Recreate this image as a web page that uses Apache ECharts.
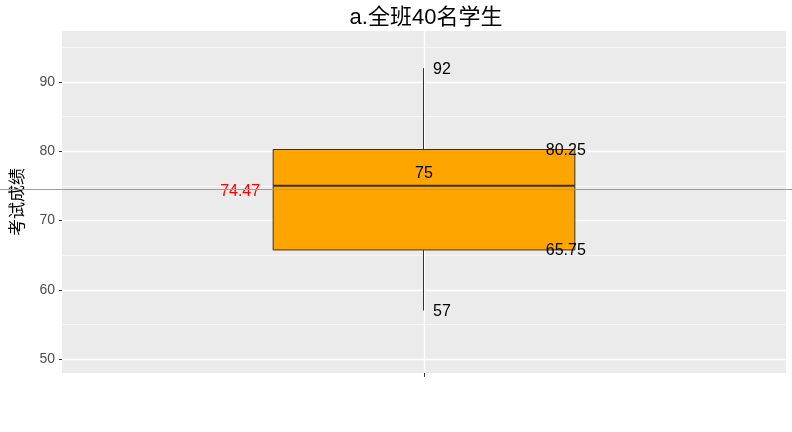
<!DOCTYPE html>
<html><head><meta charset="utf-8">
<script src="https://cdn.jsdelivr.net/npm/echarts@6/dist/echarts.min.js"></script>
<style>html,body{margin:0;padding:0;background:#fff}#c{width:792px;height:432px}</style>
</head><body><div id="c"></div>
<script>
// ---- data ----
const titleText = 'a.全班40名学生';
const yName = '考试成绩';
const groupX = [1];                         // single group position on the discrete axis
const boxStats = [57, 65.75, 75, 80.25, 92]; // min, Q1, median, Q3, max
const meanValue = [74.47];
const yTicks = [50, 60, 70, 80, 90];
const yMinorTicks = [55, 65, 75, 85, 95];

// ---- chart ----
const yMin = 47.98, yMax = 97.36;
const halfBox = 0.25;
const chart = echarts.init(document.getElementById('c'), null, {renderer: 'canvas'});
const stroke = '#333333';
const labelFont = {fontSize: 16, fontFamily: 'Liberation Sans, Arial, sans-serif', fill: '#000'};

chart.setOption({
  animation: false,
  backgroundColor: '#ffffff',
  title: {
    text: titleText, left: 421, top: 2, textAlign: 'center',
    textStyle: {fontSize: 22, fontWeight: 'normal', color: '#000',
      fontFamily: 'Liberation Sans, "Noto Sans CJK SC", sans-serif'}
  },
  grid: [
    {left: 59, right: 6, top: 31, bottom: 59, show: true, backgroundColor: '#EBEBEB', borderWidth: 0},
    {left: 0, right: 0, top: 31, bottom: 59, show: false}
  ],
  xAxis: [
    {type: 'value', gridIndex: 0, min: 0.4, max: 1.6,
      axisLine: {show: false},
      axisTick: {show: true, customValues: groupX, length: 4, lineStyle: {color: stroke}},
      axisLabel: {show: false, customValues: groupX},
      splitLine: {show: true, lineStyle: {color: '#ffffff', width: 1.3}}},
    {type: 'value', gridIndex: 1, min: 0, max: 1, show: false}
  ],
  yAxis: [
    {type: 'value', gridIndex: 0, min: yMin, max: yMax,
      name: yName, nameLocation: 'middle', nameGap: 37, nameRotate: 90,
      nameTextStyle: {fontSize: 17, color: '#000', fontFamily: '"Noto Sans CJK SC", sans-serif'},
      axisLine: {show: false},
      axisTick: {show: true, customValues: yTicks, length: 3, lineStyle: {color: stroke}},
      axisLabel: {customValues: yTicks, margin: 7, fontSize: 14, color: '#4D4D4D',
        fontFamily: 'Liberation Sans, Arial, sans-serif'},
      splitLine: {show: true, lineStyle: {color: '#ffffff', width: 1.3}}},
    {type: 'value', gridIndex: 0, min: yMin, max: yMax, position: 'left',
      axisLine: {show: false},
      axisTick: {show: false, customValues: yMinorTicks},
      axisLabel: {show: false, customValues: yMinorTicks},
      splitLine: {show: true, lineStyle: {color: '#ffffff', width: 0.6}}},
    {type: 'value', gridIndex: 1, min: yMin, max: yMax, show: false}
  ],
  series: [
    {
      type: 'custom', xAxisIndex: 0, yAxisIndex: 0, silent: true, z: 3,
      data: [[groupX[0]].concat(boxStats)],
      encode: {x: 0, y: [1, 2, 3, 4, 5]},
      renderItem: function (params, api) {
        const x = api.value(0);
        const mn = api.value(1), q1 = api.value(2), md = api.value(3), q3 = api.value(4), mx = api.value(5);
        const pTop = api.coord([x, mx]);
        const pBot = api.coord([x, mn]);
        const pQ3 = api.coord([x, q3]);
        const pQ1 = api.coord([x, q1]);
        const pMd = api.coord([x, md]);
        const left = api.coord([x - halfBox, q3])[0];
        const right = api.coord([x + halfBox, q3])[0];
        const pMean = api.coord([x, meanValue[0]]);
        const wx = Math.floor(pTop[0]) + 0.5;
        return {type: 'group', children: [
          {type: 'line', shape: {x1: wx, y1: pTop[1], x2: wx, y2: pQ3[1]}, style: {stroke: stroke, lineWidth: 1}},
          {type: 'line', shape: {x1: wx, y1: pQ1[1], x2: wx, y2: pBot[1]}, style: {stroke: stroke, lineWidth: 1}},
          {type: 'rect', shape: {x: left, y: pQ3[1], width: right - left, height: pQ1[1] - pQ3[1]},
            style: {fill: '#FFA500', stroke: stroke, lineWidth: 1}},
          {type: 'line', shape: {x1: left, y1: pMd[1], x2: right, y2: pMd[1]}, style: {stroke: stroke, lineWidth: 2}},
          {type: 'text', style: Object.assign({text: String(mx), x: pTop[0] + 9, y: pTop[1] + 1, align: 'left', verticalAlign: 'middle'}, labelFont)},
          {type: 'text', style: Object.assign({text: String(mn), x: pBot[0] + 9, y: pBot[1] + 1, align: 'left', verticalAlign: 'middle'}, labelFont)},
          {type: 'text', style: Object.assign({text: String(q3), x: right - 9, y: pQ3[1] + 1, align: 'center', verticalAlign: 'middle'}, labelFont)},
          {type: 'text', style: Object.assign({text: String(q1), x: right - 9, y: pQ1[1] + 1, align: 'center', verticalAlign: 'middle'}, labelFont)},
          {type: 'text', style: Object.assign({text: String(md), x: pMd[0], y: pMd[1] - 12, align: 'center', verticalAlign: 'middle'}, labelFont)},
          {type: 'text', style: Object.assign({}, labelFont, {text: String(meanValue[0]), x: left - 13, y: pMean[1] + 2, align: 'right', verticalAlign: 'middle', fill: '#FF0000'})}
        ]};
      }
    },
    {
      type: 'line', xAxisIndex: 1, yAxisIndex: 2, silent: true, z: 4,
      data: [[0, meanValue[0]], [1, meanValue[0]]],
      showSymbol: false, symbol: 'none',
      lineStyle: {color: '#F8766D', width: 1}
    }
  ]
});
</script>
</body></html>
